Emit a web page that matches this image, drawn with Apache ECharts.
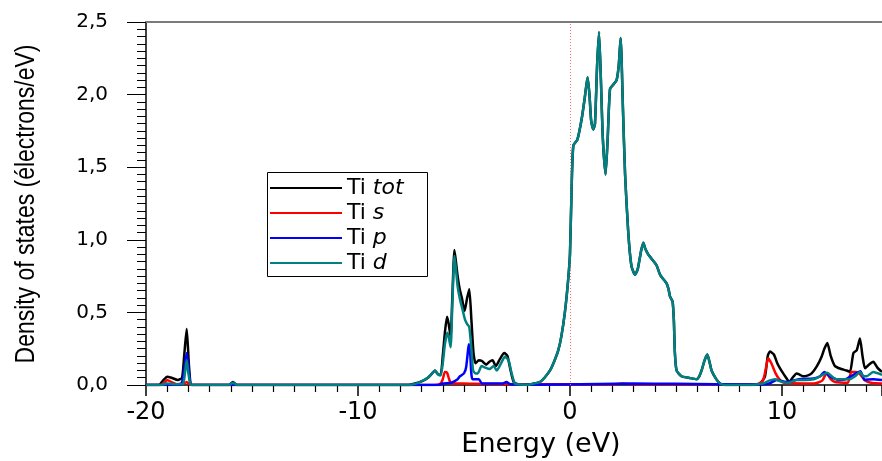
<!DOCTYPE html>
<html>
<head>
<meta charset="utf-8">
<script src="https://cdn.jsdelivr.net/npm/echarts@6/dist/echarts.min.js"></script>
<style>
  html, body { margin: 0; padding: 0; background: #fff; }
  #dos-chart { width: 882px; height: 461px; }
</style>
</head>
<body>
<div id="dos-chart"></div>
<script>
// Ti partial DOS, [energy (eV), states/eV]
const totLow = [
  [-20, 0], [-19.4, 0], [-19.2, 0.03], [-19.0, 0.057], [-18.8, 0.05], [-18.5, 0.035], [-18.3, 0.05],
  [-18.2, 0.2], [-18.08, 0.385], [-17.98, 0.15], [-17.9, 0.01], [-17.8, 0], [-16.1, 0], [-15.9, 0.02],
  [-15.7, 0], [-7.6, 0], [-7.3, 0.01], [-7.0, 0.025], [-6.7, 0.05], [-6.5, 0.08], [-6.37, 0.1],
  [-6.2, 0.07], [-6.1, 0.07], [-6.0, 0.2], [-5.9, 0.36], [-5.8, 0.47], [-5.72, 0.42], [-5.63, 0.33],
  [-5.55, 0.6], [-5.45, 0.93], [-5.38, 0.85], [-5.3, 0.75], [-5.2, 0.66], [-5.1, 0.6], [-4.97, 0.51],
  [-4.85, 0.6], [-4.75, 0.66], [-4.65, 0.45], [-4.55, 0.22], [-4.45, 0.15], [-4.3, 0.17], [-4.15, 0.165],
  [-3.95, 0.14], [-3.8, 0.16], [-3.65, 0.17], [-3.5, 0.13], [-3.3, 0.18], [-3.1, 0.22], [-2.95, 0.2],
  [-2.8, 0.1], [-2.65, 0.02]
];
const dLow = [
  [-20, 0], [-19.3, 0], [-19.0, 0.01], [-18.6, 0.005], [-18.25, 0.01], [-18.15, 0.1], [-18.08, 0.17],
  [-18.0, 0.08], [-17.9, 0.005], [-17.8, 0], [-16.1, 0], [-15.9, 0.015], [-15.7, 0], [-7.6, 0],
  [-7.3, 0.008], [-7.08, 0.02], [-6.7, 0.05], [-6.5, 0.08], [-6.37, 0.1], [-6.2, 0.07], [-6.1, 0.065],
  [-6.0, 0.15], [-5.9, 0.28], [-5.79, 0.36], [-5.72, 0.33], [-5.63, 0.26], [-5.55, 0.55], [-5.45, 0.89],
  [-5.38, 0.8], [-5.3, 0.68], [-5.19, 0.59], [-5.07, 0.52], [-4.95, 0.45], [-4.85, 0.42], [-4.75, 0.4],
  [-4.65, 0.25], [-4.57, 0.1], [-4.45, 0.08], [-4.35, 0.08], [-4.17, 0.13], [-4.0, 0.12], [-3.8, 0.11],
  [-3.6, 0.13], [-3.45, 0.1], [-3.25, 0.15], [-3.07, 0.195], [-2.9, 0.17], [-2.75, 0.08], [-2.6, 0.01]
];
// region where tot and d coincide
const bandMain = [
  [-2.4, 0.003], [-2.0, 0.002], [-1.7, 0.01], [-1.42, 0.02], [-1.2, 0.05], [-0.94, 0.1], [-0.75, 0.16],
  [-0.55, 0.24], [-0.4, 0.34], [-0.24, 0.5], [-0.1, 0.7], [0, 0.9], [0.08, 1.37], [0.16, 1.65],
  [0.35, 1.69], [0.55, 1.83], [0.7, 1.98], [0.83, 2.12], [0.92, 2.0], [1.0, 1.82], [1.1, 1.76],
  [1.18, 1.8], [1.28, 2.2], [1.37, 2.43], [1.46, 2.1], [1.55, 1.7], [1.68, 1.45], [1.78, 1.7],
  [1.89, 2.04], [2.05, 2.07], [2.2, 2.1], [2.3, 2.2], [2.39, 2.39], [2.5, 1.9], [2.6, 1.45],
  [2.75, 1.05], [2.9, 0.82], [3.07, 0.76], [3.2, 0.8], [3.35, 0.92], [3.46, 0.98], [3.55, 0.94],
  [3.69, 0.9], [3.85, 0.87], [4.01, 0.84], [4.1, 0.82], [4.25, 0.76], [4.4, 0.73], [4.56, 0.7],
  [4.65, 0.66], [4.72, 0.61], [4.84, 0.575], [4.9, 0.45], [4.95, 0.22], [5.03, 0.1], [5.26, 0.06],
  [5.6, 0.05], [5.97, 0.04], [6.1, 0.06], [6.21, 0.1], [6.35, 0.17], [6.48, 0.21], [6.58, 0.16],
  [6.68, 0.1], [6.9, 0.04], [7.08, 0.01], [7.3, 0], [8.5, 0]
];
const totHigh = [
  [8.96, 0.01], [9.2, 0.06], [9.33, 0.2], [9.43, 0.23], [9.62, 0.21], [9.78, 0.15], [9.91, 0.115],
  [10.06, 0.08], [10.2, 0.05], [10.34, 0.02], [10.5, 0.05], [10.69, 0.08], [10.85, 0.07], [11.0, 0.06],
  [11.2, 0.065], [11.4, 0.08], [11.65, 0.13], [11.87, 0.195], [12.0, 0.25], [12.14, 0.29], [12.3, 0.2],
  [12.5, 0.13], [12.8, 0.11], [13.05, 0.1], [13.21, 0.09], [13.37, 0.22], [13.53, 0.24], [13.68, 0.32],
  [13.8, 0.2], [13.92, 0.115], [14.1, 0.14], [14.31, 0.16], [14.5, 0.12], [14.72, 0.09]
];
const dHigh = [
  [9.1, 0.01], [9.4, 0.03], [9.67, 0.04], [9.85, 0.03], [10.05, 0.02], [10.3, 0.015], [10.7, 0.035],
  [11.1, 0.035], [11.5, 0.04], [11.8, 0.06], [12.14, 0.085], [12.35, 0.06], [12.56, 0.04], [13.2, 0.04],
  [13.45, 0.06], [13.68, 0.09], [13.85, 0.06], [14.0, 0.06], [14.3, 0.09], [14.72, 0.07]
];
const sDos = [
  [-20, 0], [-19.3, 0], [-19.1, 0.02], [-19.0, 0.035], [-18.8, 0.02], [-18.5, 0.005], [-18.15, 0.015],
  [-18.08, 0.02], [-17.95, 0.005], [-17.8, 0], [-6.4, 0], [-6.1, 0.01], [-6.0, 0.04], [-5.9, 0.09],
  [-5.8, 0.085], [-5.7, 0.04], [-5.6, 0.01], [-5.0, 0.01], [-4.5, 0.008], [-2.5, 0.005], [2.0, 0.005],
  [2.5, 0.01], [3.0, 0.005], [8.8, 0.005], [9.1, 0.03], [9.25, 0.12], [9.35, 0.185], [9.5, 0.15],
  [9.7, 0.08], [9.9, 0.035], [10.1, 0.015], [11.5, 0.01], [11.9, 0.03], [12.1, 0.08], [12.3, 0.04],
  [12.5, 0.02], [13.1, 0.015], [13.2, 0.06], [13.28, 0.09], [13.5, 0.09], [13.65, 0.08], [13.9, 0.035],
  [14.2, 0.015], [14.72, 0.01]
];
const pDos = [
  [-20, 0], [-18.4, 0], [-18.25, 0.05], [-18.08, 0.22], [-17.95, 0.06], [-17.85, 0], [-6.2, 0],
  [-6.0, 0.01], [-5.6, 0.015], [-5.3, 0.04], [-5.19, 0.06], [-5.0, 0.08], [-4.9, 0.12], [-4.8, 0.25],
  [-4.76, 0.28], [-4.7, 0.2], [-4.6, 0.04], [-4.3, 0.04], [-4.15, 0.01], [-3.2, 0.01], [-3.0, 0.02],
  [-2.8, 0.005], [-2.0, 0.002], [3, 0.01], [5, 0.008], [8.8, 0.003], [9.4, 0.01], [9.75, 0.035],
  [10.2, 0.02], [10.8, 0.04], [11.5, 0.045], [11.8, 0.06], [12.0, 0.09], [12.26, 0.06], [12.7, 0.035],
  [13.0, 0.04], [13.25, 0.06], [13.5, 0.08], [13.7, 0.095], [13.9, 0.035], [14.3, 0.04], [14.72, 0.035]
];
const totDos = totLow.concat(bandMain, totHigh);
const dDos = dLow.concat(bandMain, dHigh);

const seriesNames = ['tot', 's', 'p', 'd'];
const seriesColors = ['#000000', '#ff0000', '#0000ff', '#008080'];
const seriesData = [totDos, sDos, pDos, dDos];
const xTicks = [-20, -10, 0, 10];
const yTicks = [0, 0.5, 1, 1.5, 2, 2.5];
const xMax = 14.72;

const chart = echarts.init(document.getElementById('dos-chart'), null, { renderer: 'canvas' });

const series = seriesNames.map((name, i) => ({
  name,
  type: 'line',
  data: seriesData[i],
  smooth: 0.2,
  symbol: 'none',
  lineStyle: { color: seriesColors[i], width: 2.5 },
  itemStyle: { color: seriesColors[i] },
  z: 2 + i
}));
// Fermi level
series[0].markLine = {
  silent: true,
  symbol: 'none',
  label: { show: false },
  lineStyle: { color: '#ff7070', type: [1, 2], width: 1 },
  data: [{ xAxis: 0 }]
};

chart.setOption({
  animation: false,
  grid: { left: 146, right: 0, top: 22, bottom: 76, outerBoundsMode: 'none' },
  graphic: [{
    // y title drawn as narrow text (condensed face is not installed)
    type: 'text',
    x: 27,
    y: 204,
    rotation: Math.PI / 2,
    scaleX: 0.85,
    style: {
      text: 'Density of states (électrons/eV)',
      fontFamily: 'Liberation Sans',
      fontSize: 27,
      fill: '#000',
      align: 'center',
      verticalAlign: 'middle'
    }
  }, {
    // legend frame
    type: 'rect',
    z: 3,
    silent: true,
    shape: { x: 267.5, y: 172.5, width: 160, height: 104 },
    style: { fill: '#fff', stroke: '#000', lineWidth: 1 }
  }],
  legend: {
    orient: 'vertical',
    left: 267,
    top: 172,
    z: 6,
    padding: [5, 6, 2, 3],
    itemGap: 3,
    itemWidth: 72,
    itemHeight: 2,
    icon: 'rect',
    data: seriesNames,
    formatter: name => '{n|Ti }{i|' + name + '}',
    textStyle: {
      color: '#000',
      fontFamily: 'DejaVu Sans',
      fontSize: 22,
      lineHeight: 20,
      rich: {
        n: { fontFamily: 'DejaVu Sans', fontSize: 22, lineHeight: 20, color: '#000' },
        i: { fontFamily: 'DejaVu Sans', fontSize: 22, lineHeight: 20, fontStyle: 'italic', color: '#000' }
      }
    }
  },
  xAxis: [{
    type: 'value',
    min: xTicks[0],
    max: xMax,
    interval: 10,
    name: 'Energy (eV)',
    nameLocation: 'middle',
    nameGap: 46,
    nameTextStyle: { fontFamily: 'DejaVu Sans', fontSize: 27, color: '#000', padding: [0, 0, 0, 54] },
    axisLine: { onZero: false, lineStyle: { color: '#000', width: 1.5 } },
    axisTick: { inside: false, length: 11, lineStyle: { color: '#000', width: 1.5 } },
    minorTick: { show: true, splitNumber: 10, length: 7, lineStyle: { color: '#000', width: 1.2 } },
    axisLabel: {
      showMaxLabel: false,
      margin: 16,
      fontFamily: 'DejaVu Sans',
      fontSize: 24,
      color: '#000',
      formatter: v => String(v)
    },
    splitLine: { show: false }
  }, {
    type: 'value',
    position: 'top',
    min: xTicks[0],
    max: xMax,
    axisLine: { onZero: false, lineStyle: { color: '#7a7a7a', width: 2 } },
    axisTick: { show: false },
    axisLabel: { show: false },
    splitLine: { show: false }
  }],
  yAxis: {
    type: 'value',
    min: yTicks[0],
    max: yTicks[yTicks.length - 1],
    interval: 0.5,
    axisLine: { show: true, onZero: false, lineStyle: { color: '#000', width: 1.5 } },
    axisTick: { inside: false, length: 19, lineStyle: { color: '#000', width: 1 } },
    minorTick: { show: true, splitNumber: 10, length: 9, lineStyle: { color: '#000', width: 1 } },
    axisLabel: {
      margin: 38,
      fontFamily: 'DejaVu Sans',
      fontSize: 20,
      color: '#000',
      formatter: v => v.toFixed(1).replace('.', ',')
    },
    splitLine: { show: false }
  },
  series
});

window.addEventListener('resize', () => chart.resize());
</script>
</body>
</html>
